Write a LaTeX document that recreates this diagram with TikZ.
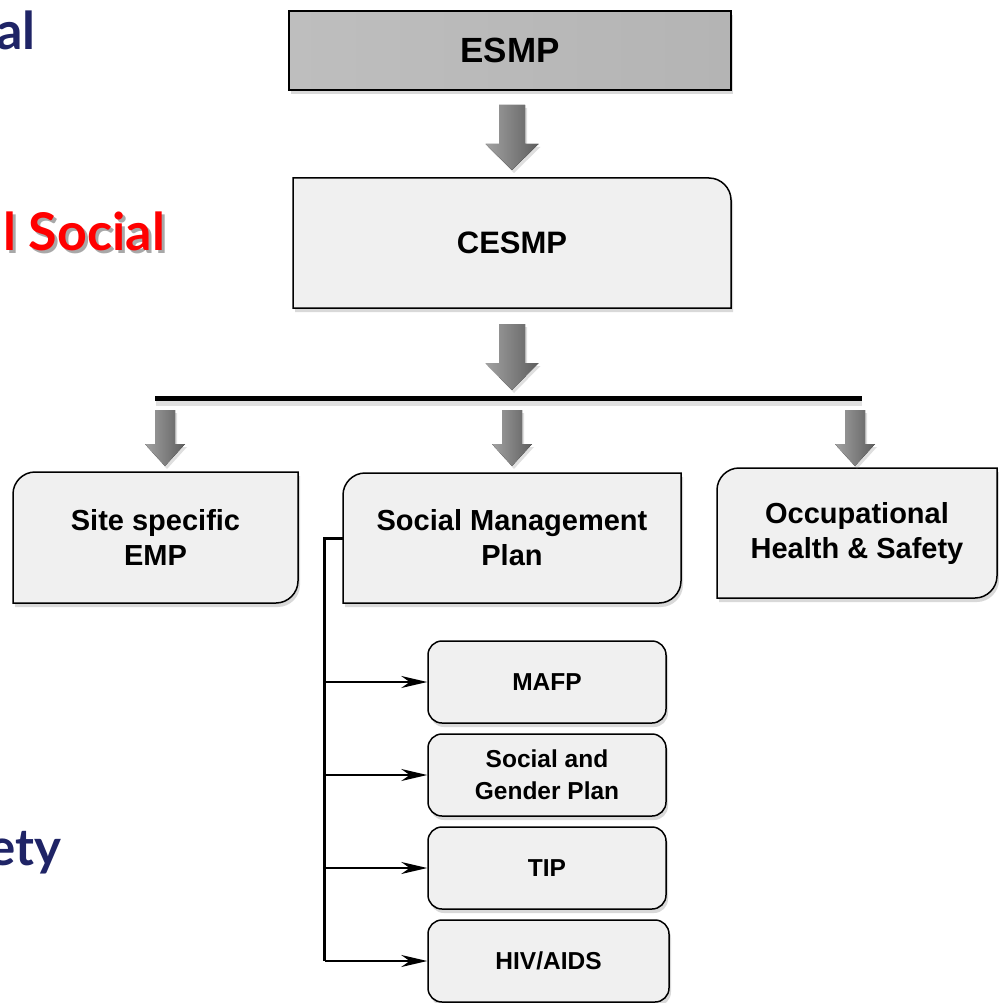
\documentclass[tikz,border=0pt]{standalone}
\usepackage{fontspec}
\setmainfont{Liberation Sans}
\newfontfamily\gillf{Lato}
\usetikzlibrary{shadows,arrows.meta}
\definecolor{boxfill}{HTML}{F0F0F0}
\definecolor{navy}{HTML}{1F2466}
\definecolor{redt}{HTML}{FF0000}
\definecolor{agl}{HTML}{A2A2A2}
\definecolor{agm}{HTML}{7E7E7E}
\definecolor{agr}{HTML}{5E5E5E}
\definecolor{esl}{HTML}{BEBEBE}
\definecolor{esm}{HTML}{A0A0A0}
\definecolor{esr}{HTML}{B4B4B4}
\definecolor{shd}{HTML}{A8A8A8}
\tikzset{
  boxsty/.style={draw=black, line width=1.5pt, fill=boxfill,
    drop shadow={shadow xshift=2pt, shadow yshift=-4pt, opacity=0.3}},
  lbl/.style={inner sep=0pt, align=center, font=\bfseries\fontsize{29}{35}\selectfont},
  sublbl/.style={boxsty, rounded corners=14pt, inner sep=0pt, align=center,
    minimum width=238pt, minimum height=82pt, font=\bfseries\fontsize{24.5}{32}\selectfont},
  conn/.style={line width=2.2pt, -{Stealth[length=26pt,width=12pt]}},
  spine/.style={line width=3pt},
  blk/.style={left color=agl, middle color=agm, right color=agr,
    drop shadow={shadow xshift=2pt, shadow yshift=-3pt, opacity=0.25}},
  side/.style={anchor=base east, inner sep=0pt, font=\gillf\bfseries\fontsize{52}{60}\selectfont}
}
\newcommand\blkarrow[6]{% cx, top, headstart, tip, shafthalf, headhalf
  \fill[blk] ({#1-#5},#2) -- ({#1+#5},#2) -- ({#1+#5},#3) -- ({#1+#6},#3) -- (#1,#4)
    -- ({#1-#6},#3) -- ({#1-#5},#3) -- cycle;}
\newcommand\shadowtext[2]{\rlap{\kern3pt\raisebox{-3pt}{\textcolor{shd}{#2}}}\textcolor{#1}{#2}}
\begin{document}
\begin{tikzpicture}[x=1pt,y=-1pt]
\useasboundingbox (0,0) rectangle (998,1003);

% left partial titles (cropped at the page edge as in the reference)
\node[side, text=navy] (t1) at (36,50) {al};
\node[side] (t2) at (165,250) {\shadowtext{redt}{l Social}};
\node[side, text=navy, font=\gillf\bfseries\fontsize{51}{58}\selectfont] (t3) at (62,865) {ety};

% ESMP
\node[draw=black, line width=1.5pt, minimum width=442pt, minimum height=79pt, inner sep=0pt,
  left color=esl, middle color=esm, right color=esr,
  drop shadow={shadow xshift=2pt, shadow yshift=-4pt, opacity=0.3},
  font=\bfseries\fontsize{35}{40}\selectfont] (esmp) at (510,50.5) {ESMP};

% CESMP
\draw[boxsty] (293,178) -- (709,178) .. controls (721,178) and (731,188) .. (731,200)
  -- (731,308) -- (293,308) -- cycle;
\node[lbl, minimum width=438pt, minimum height=130pt, font=\bfseries\fontsize{31}{36}\selectfont] (cesmp) at (512,243) {CESMP};

% second level boxes
\draw[boxsty] (13,603) -- (13,494) .. controls (13,482) and (23,472) .. (35,472)
  -- (298,472) -- (298,581) .. controls (298,593) and (288,603) .. (276,603) -- cycle;
\node[lbl, minimum width=285pt, minimum height=131pt] (site) at (155.5,537.5) {Site specific\\EMP};

\draw[boxsty] (343,603) -- (343,495) .. controls (343,483) and (353,473) .. (365,473)
  -- (681,473) -- (681,581) .. controls (681,593) and (671,603) .. (659,603) -- cycle;
\node[lbl, minimum width=338pt, minimum height=130pt] (social) at (512,538) {Social Management\\Plan};

\draw[boxsty] (717,598) -- (717,490) .. controls (717,478) and (727,468) .. (739,468)
  -- (997,468) -- (997,576) .. controls (997,588) and (987,598) .. (975,598) -- cycle;
\node[lbl, minimum width=280pt, minimum height=130pt] (occ) at (857,533) {Occupational\\Health \& Safety};

% block arrows
\blkarrow{512}{105}{144}{170}{13}{26.5}
\blkarrow{512}{324}{363}{390}{13}{26.5}
\draw[line width=6pt, black!12] (156,403) -- (862,403);
\draw[line width=5pt] (155,398) -- (862,398);
\blkarrow{165}{410}{444}{466}{10}{20}
\blkarrow{512}{410}{444}{466}{10}{20}
\blkarrow{855}{410}{444}{466}{10}{20}

% sub boxes
\node[sublbl] (mafp) at (547,682) {MAFP};
\node[sublbl] (sgp) at (547,775) {Social and\\Gender Plan};
\node[sublbl] (tip) at (547,868) {TIP};
\node[sublbl, minimum width=241pt] (hiv) at (548.5,961) {HIV/AIDS};

% bracket connectors
\coordinate (sp) at ([xshift=-18pt]social.west);
\draw[spine] (social.west) -- (sp) -- (sp |- hiv.west);
\draw[conn] (sp |- mafp.west) -- (mafp.west);
\draw[conn] (sp |- sgp.west) -- (sgp.west);
\draw[conn] (sp |- tip.west) -- (tip.west);
\draw[conn] (sp |- hiv.west) -- (hiv.west);
\end{tikzpicture}
\end{document}
